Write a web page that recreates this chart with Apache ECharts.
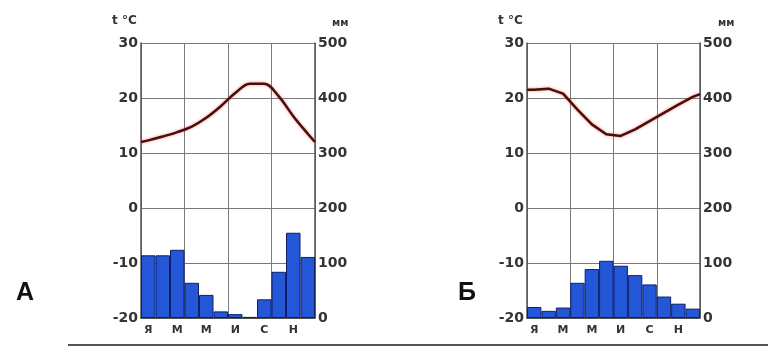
<!DOCTYPE html>
<html><head><meta charset="utf-8">
<script src="https://cdn.jsdelivr.net/npm/echarts@6/dist/echarts.min.js"></script>
<style>html,body{margin:0;padding:0;background:#fff}#c{width:768px;height:359px}</style>
</head><body><div id="c"></div>
<script>
const months = ['Я','Ф','М','А','М','И','И','А','С','О','Н','Д'];
const tempTicks = [-20,-10,0,10,20,30];
const precTicks = [0,100,200,300,400,500];
// Climate A
const precipA = [114,114,124,64,42,12,7,2,34,84,155,111];
const tempA = [12.3,13.0,13.8,14.8,16.4,18.5,20.9,22.6,22.6,20.3,16.7,13.5];
const tempAEdges = [12.0,12.0];
// Climate B
const precipB = [20,13,19,64,89,104,95,78,61,39,26,17];
const tempB = [21.5,21.7,20.8,17.9,15.2,13.4,13.1,14.3,15.8,17.3,18.8,20.2];
const tempBEdges = [21.5,20.7];

function linePts(t, e){
  const p=[[0,e[0]]];
  t.forEach((v,i)=>p.push([i+0.5,v]));
  p.push([12,e[1]]);
  return p;
}
const F='DejaVu Sans';
const lab={fontFamily:F,fontWeight:'bold',fontSize:14,color:'#333'};
const grids=[{left:141,top:43,width:174,height:275},{left:527,top:43,width:173,height:275}];
const xAxis=[],yAxis=[],series=[];
[[precipA,tempA,tempAEdges,false],[precipB,tempB,tempBEdges,true]].forEach((d,g)=>{
  xAxis.push({type:'category',gridIndex:g,data:months,boundaryGap:true,
    axisLine:{show:true,onZero:false,lineStyle:{color:'#444',width:1.5}},axisTick:{show:false},
    axisLabel:{interval:1,fontFamily:F,fontWeight:'bold',fontSize:11,color:'#333',margin:7},
    splitLine:{show:false}});
  xAxis.push({type:'value',gridIndex:g,min:0,max:12,interval:3,show:true,
    axisLine:{show:false},axisTick:{show:false},axisLabel:{show:false},
    splitLine:{show:true,lineStyle:{color:'#7a7a7a',width:1}}});
  yAxis.push({type:'value',gridIndex:g,min:-20,max:30,interval:10,position:'left',
    axisLine:{show:true,onZero:false,lineStyle:{color:'#555',width:1.5}},axisTick:{show:false},
    axisLabel:Object.assign({margin:3},lab),
    splitLine:{show:true,lineStyle:{color:'#7a7a7a',width:1}}});
  yAxis.push({type:'value',gridIndex:g,min:0,max:500,interval:100,position:'right',
    axisLine:{show:true,onZero:false,lineStyle:{color:'#555',width:1.5}},axisTick:{show:false},
    axisLabel:Object.assign({margin:3},lab),splitLine:{show:false}});
  series.push({type:'bar',xAxisIndex:2*g,yAxisIndex:2*g+1,data:d[0],barWidth:'100%',
    itemStyle:{color:'#2457d8',borderColor:'#0e1f6a',borderWidth:1},z:3});
  series.push({type:'line',xAxisIndex:2*g+1,yAxisIndex:2*g,data:linePts(d[1],d[2]),
    smooth:d[3]?false:0.35,showSymbol:false,
    lineStyle:{color:'#4a0d0a',width:2.5,shadowColor:'rgba(230,90,90,0.7)',shadowBlur:3},z:4});
});
const chart=echarts.init(document.getElementById('c'),null,{renderer:'canvas'});
chart.setOption({animation:false,grid:grids,xAxis,yAxis,series,
  graphic:[
    {type:'text',left:112,top:15,style:{text:'t °C',font:'bold 12px "DejaVu Sans"',fill:'#333'}},
    {type:'text',left:332,top:18,style:{text:'мм',font:'bold 10px "DejaVu Sans"',fill:'#333'}},
    {type:'text',left:498,top:15,style:{text:'t °C',font:'bold 12px "DejaVu Sans"',fill:'#333'}},
    {type:'text',left:718,top:18,style:{text:'мм',font:'bold 10px "DejaVu Sans"',fill:'#333'}},
    {type:'text',left:16,top:281,style:{text:'А',font:'bold 25px "Liberation Sans"',fill:'#111'}},
    {type:'text',left:458,top:281,style:{text:'Б',font:'bold 25px "Liberation Sans"',fill:'#111'}},
    {type:'line',shape:{x1:68,y1:345,x2:768,y2:345},style:{stroke:'#555',lineWidth:2}}
  ]});
</script></body></html>
